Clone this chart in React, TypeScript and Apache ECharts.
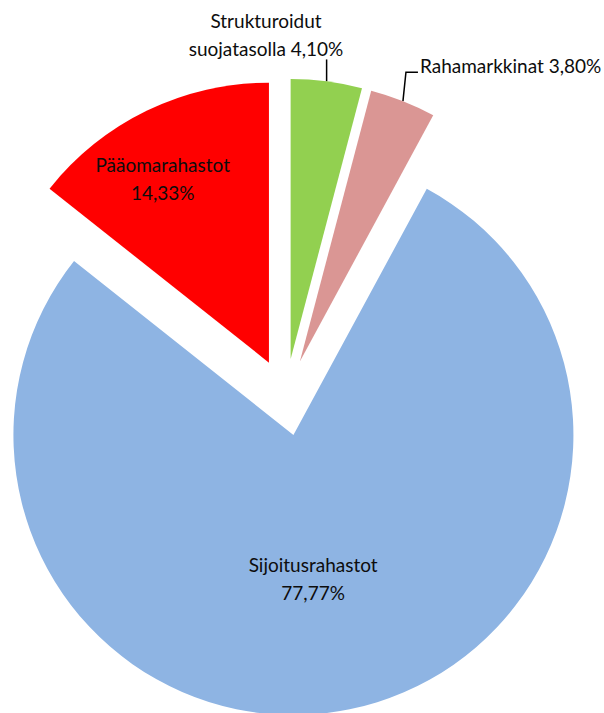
import React, { useEffect, useRef } from "react";
import * as echarts from "echarts";

const categories = ["Strukturoidut suojatasolla", "Rahamarkkinat", "Sijoitusrahastot", "Pääomarahastot"];
const values = [4.1, 3.8, 77.77, 14.33];
const colors = ["#92D050", "#DA9694", "#8EB4E3", "#FF0000"];

const FONT = "Lato";
const FONT_SIZE = 19;
const BASE_CENTER = [285.7, 397.3];
const RADIUS = 280;
const EXPLODE = 38.5;

function pct(v: number) {
  return v.toFixed(2).replace(".", ",") + "%";
}

export default function App() {
  const ref = useRef<HTMLDivElement>(null);
  useEffect(() => {
    document.body.style.margin = "0";
    if (!ref.current) return;
    const chart = echarts.init(ref.current, null, { renderer: "svg" });
    const total = values.reduce((a, b) => a + b, 0);
    let cum = 0;
    const series: any[] = categories.map((name, i) => {
      const v = values[i];
      const startFrac = cum / total;
      const midDeg = (360 * (cum + v / 2)) / total;
      cum += v;
      const rad = (midDeg * Math.PI) / 180;
      const center = [
        BASE_CENTER[0] + EXPLODE * Math.sin(rad),
        BASE_CENTER[1] - EXPLODE * Math.cos(rad),
      ];
      const outside = i < 2;
      return {
        type: "pie",
        center,
        radius: RADIUS,
        startAngle: 90 - 360 * startFrac,
        clockwise: true,
        avoidLabelOverlap: false,
        emphasis: { disabled: true },
        label: {
          position: outside ? "outside" : "inside",
          fontFamily: FONT,
          fontSize: FONT_SIZE,
          lineHeight: 28,
          color: "#0d0d0d",
          align: "center",
          formatter: (p: any) => {
            if (i === 0) return p.name.replace(" ", "\n") + " " + pct(p.value);
            if (i === 1) return p.name + " " + pct(p.value);
            return p.name + "\n" + pct(p.value);
          },
        },
        labelLine: {
          show: outside,
          length: 22,
          length2: 12,
          lineStyle: { color: "#000000", width: 1.5 },
        },
        labelLayout: (params: any) => {
          if (params.dataIndex !== 0) return {};
          const pts = params.labelLinePoints;
          if (i === 0 && pts) {
            const a = pts[0];
            const b = [a[0], a[1] - 22];
            return {
              labelLinePoints: [a, b],
              x: b[0] - 60.6,
              y: b[1] - 24.6,
              align: "center",
              verticalAlign: "middle",
            };
          }
          if (i === 1 && pts) {
            const a = pts[0];
            const b = [a[0] + 3, a[1] - 29];
            const c = [b[0] + 12, b[1]];
            return {
              labelLinePoints: [a, b, c],
              x: c[0] + 2,
              y: c[1] - 7,
              align: "left",
              verticalAlign: "middle",
            };
          }
          if (i === 3) return { dx: -44, dy: -55 };
          if (i === 2) return { dx: -9, dy: 3 };
          return {};
        },
        data: [
          { name, value: v, itemStyle: { color: colors[i] } },
          {
            name: "",
            value: total - v,
            itemStyle: { color: "transparent" },
            label: { show: false },
            labelLine: { show: false },
          },
        ],
      };
    });
    chart.setOption({ animation: false, backgroundColor: "#ffffff", series });
    return () => chart.dispose();
  }, []);
  return <div ref={ref} style={{ width: 604, height: 713 }} />;
}
